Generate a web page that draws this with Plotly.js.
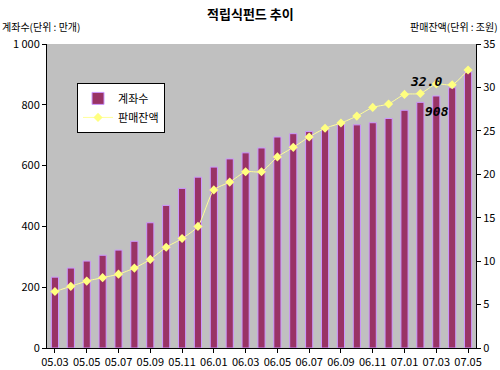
<!DOCTYPE html>
<html>
<head>
<meta charset="utf-8">
<script src="https://cdn.plot.ly/plotly-3.0.1.min.js"></script>
<style>html,body{margin:0;padding:0;background:#fff;}#chart{width:500px;height:370px;}</style>
</head>
<body>
<div id="chart"></div>
<script>
const months = ["05.03","05.04","05.05","05.06","05.07","05.08","05.09","05.10","05.11","05.12",
  "06.01","06.02","06.03","06.04","06.05","06.06","06.07","06.08","06.09","06.10","06.11","06.12",
  "07.01","07.02","07.03","07.04","07.05"];
const accounts = [233,263,286,305,322,351,412,469,525,562,595,622,642,658,694,705,712,724,740,734,741,755,782,808,829,856,908];
const balance = [6.5,7.1,7.7,8.1,8.5,9.2,10.2,11.6,12.6,14.0,18.2,19.1,20.3,20.3,22.0,23.1,24.3,25.3,25.9,26.7,27.7,28.1,29.2,29.3,30.4,30.3,32.0];
const tickLabels = ["05.03","05.05","05.07","05.09","05.11","06.01","06.03","06.05","06.07","06.09","06.11","07.01","07.03","07.05"];

const F = '"Noto Sans CJK KR", "DejaVu Sans", sans-serif';
const last = accounts.length - 1;

const data = [
  {type:'bar', name:'계좌수', x:months, y:accounts,
   marker:{color:'#993366', line:{color:'#CC99FF', width:1}}},
  {type:'scatter', mode:'lines+markers', name:'판매잔액', x:months, y:balance, yaxis:'y2',
   line:{color:'#FFFF99', width:1, shape:'spline', smoothing:0.6},
   marker:{symbol:'diamond', size:7, color:'#FFFF80', line:{width:0}}}
];

const layout = {
  width:500, height:370,
  margin:{l:47, r:24, t:44, b:22},
  paper_bgcolor:'#FFFFFF', plot_bgcolor:'#C0C0C0',
  separators:'. ',
  font:{family:F, size:11, color:'#000'},
  bargap:0.55,
  showlegend:true,
  legend:{x:0.07, y:0.872, xanchor:'left', yanchor:'top', bgcolor:'#FFFFFF',
    bordercolor:'#000', borderwidth:1, font:{family:F, size:11, color:'#000'},
    tracegroupgap:0, itemwidth:30},
  xaxis:{type:'category', range:[-0.5, months.length-0.5], tickvals:tickLabels, ticktext:tickLabels,
    ticks:'outside', ticklen:4, tickcolor:'#000', showline:true, linecolor:'#000', linewidth:1,
    showgrid:false, zeroline:false, tickfont:{family:F, size:11}, tickangle:0},
  yaxis:{range:[0,1000], dtick:200, ticks:'outside', ticklen:4, tickcolor:'#000',
    showline:true, linecolor:'#000', linewidth:1, showgrid:false, zeroline:false,
    tickfont:{family:F, size:11}, tickformat:',d'},
  yaxis2:{range:[0,35], dtick:5, overlaying:'y', side:'right', ticks:'outside', ticklen:4,
    tickcolor:'#000', showline:true, linecolor:'#000', linewidth:1, showgrid:false,
    zeroline:false, tickfont:{family:F, size:11}},
  annotations:[
    {text:'<b>적립식펀드 추이</b>', xref:'paper', yref:'paper', x:0.475, y:1, yshift:31,
     yanchor:'middle', showarrow:false, font:{family:F, size:13}},
    {text:'계좌수(단위 : 만개)', xref:'paper', yref:'paper', x:0, xshift:-47, y:1, yshift:18,
     xanchor:'left', yanchor:'middle', showarrow:false, font:{family:F, size:10}},
    {text:'판매잔액(단위 : 조원)', xref:'paper', yref:'paper', x:1, xshift:24, y:1, yshift:18,
     xanchor:'right', yanchor:'middle', showarrow:false, font:{family:F, size:10}},
    {text:'<b><i>'+balance[last].toFixed(1)+'</i></b>', xref:'paper', yref:'paper', x:0.925, y:0.908,
     showarrow:false, font:{family:'"DejaVu Sans Mono", monospace', size:13}},
    {text:'<b><i>'+accounts[last]+'</i></b>', xref:'paper', yref:'paper', x:0.942, y:0.809,
     showarrow:false, font:{family:'"DejaVu Sans Mono", monospace', size:13}}
  ]
};

Plotly.newPlot('chart', data, layout, {displayModeBar:false, staticPlot:true});
</script>
</body>
</html>
